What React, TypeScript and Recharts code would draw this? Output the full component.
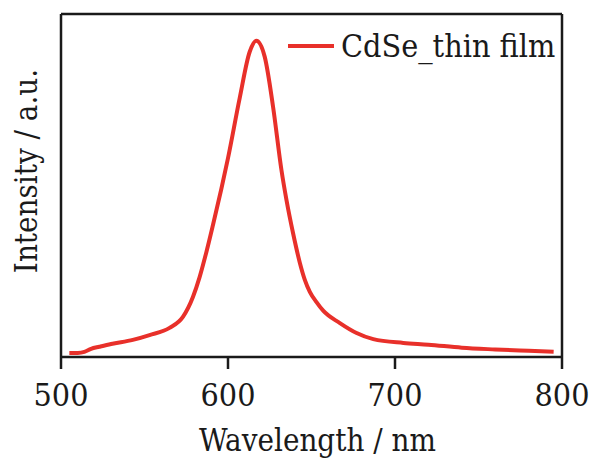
import React from 'react';
import { LineChart, Line, XAxis, YAxis, Legend, ReferenceLine } from 'recharts';

const wavelengths = [
  505, 510, 514, 518, 523, 530, 543, 553, 565, 573, 579, 583, 587, 591, 596, 600, 607, 613, 617,
  622, 627, 632, 635, 639, 643, 646, 649, 653, 657, 667, 677, 687, 705, 720, 740, 760, 780, 795,
];
const intensity = [
  0.012, 0.012, 0.015, 0.024, 0.03, 0.038, 0.05, 0.064, 0.085, 0.117, 0.175, 0.233, 0.305, 0.385,
  0.49, 0.58, 0.755, 0.89, 0.922, 0.875, 0.729, 0.545, 0.458, 0.36, 0.275, 0.225, 0.19, 0.16, 0.135,
  0.099, 0.07, 0.052, 0.041, 0.036, 0.027, 0.022, 0.018, 0.015,
];
const xTicks = [500, 600, 700, 800];

const seriesName = 'CdSe_thin film';
const FONT = 'DejaVu Serif Condensed';
const RED = '#e8302a';
const INK = '#1a1a1a';

const data = wavelengths.map((w, i) => ({ w, v: intensity[i] }));

const LegendBox = () => (
  <div style={{ display: 'flex', alignItems: 'center', fontFamily: FONT, fontSize: 32, color: INK, lineHeight: 1 }}>
    <svg width={52} height={10} style={{ marginRight: 2 }}>
      <line x1={1} y1={5} x2={47} y2={5} stroke={RED} strokeWidth={4} />
    </svg>
    <span>{seriesName}</span>
  </div>
);

const XTitle = (props: any) => {
  const { viewBox } = props;
  return (
    <text x={viewBox.x + viewBox.width / 2 + 6} y={451} textAnchor="middle" fontFamily={FONT} fontSize={31} fill={INK}>
      Wavelength / nm
    </text>
  );
};

const YTitle = () => (
  <text x={37} y={171} transform="rotate(-90 37 171)" textAnchor="middle" fontFamily={FONT} fontSize={31} fill={INK}>
    Intensity / a.u.
  </text>
);

export default function App() {
  return (
    <div style={{ position: 'absolute', left: 0, top: 0, background: '#fff' }}>
      <LineChart width={589} height={460} data={data} margin={{ top: 14, right: 27, left: 0, bottom: 0 }}>
        <XAxis
          dataKey="w"
          type="number"
          domain={[500, 800]}
          ticks={xTicks}
          height={103}
          tickSize={12}
          tickMargin={14}
          axisLine={{ stroke: INK, strokeWidth: 2.5 }}
          tickLine={{ stroke: INK, strokeWidth: 2.5 }}
          tick={{ fontFamily: FONT, fontSize: 32, fill: INK }}
          label={<XTitle />}
        />
        <YAxis
          type="number"
          domain={[0, 1]}
          width={61}
          tick={false}
          tickLine={false}
          axisLine={{ stroke: INK, strokeWidth: 2.5 }}
          label={<YTitle />}
        />
        <ReferenceLine y={1} stroke={INK} strokeWidth={2.5} />
        <ReferenceLine x={800} stroke={INK} strokeWidth={2.5} />
        <Legend
          layout="horizontal"
          verticalAlign="middle"
          align="center"
          content={<LegendBox />}
          wrapperStyle={{ position: 'absolute', left: 287, top: 30, width: 'auto', height: 'auto' }}
        />
        <Line
          dataKey="v"
          name={seriesName}
          type="monotone"
          stroke={RED}
          strokeWidth={4}
          dot={false}
          isAnimationActive={false}
        />
      </LineChart>
    </div>
  );
}
